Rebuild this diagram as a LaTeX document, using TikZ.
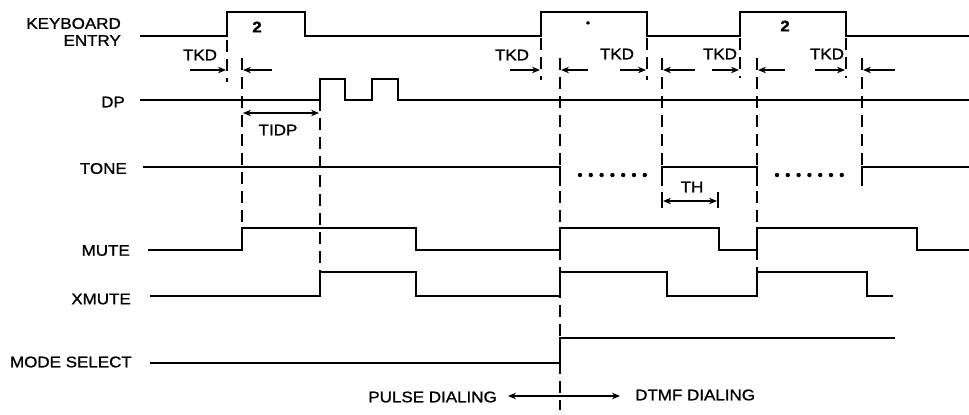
\documentclass[tikz,border=0pt]{standalone}
\usepackage{fontspec}
\setmainfont{Liberation Sans}[FakeStretch=1.1,FakeBold=1.2]
\usetikzlibrary{arrows.meta}
\begin{document}
\begin{tikzpicture}[x=1bp,y=-1bp,
 sig/.style={line width=2.9bp, line join=miter},
 vdash/.style={line width=1.4bp, dash pattern=on 12bp off 7bp},
 dim/.style={line width=1.2bp, -{Stealth[length=8bp,width=6.5bp]}},
 dimb/.style={line width=1.2bp, {Stealth[length=8bp,width=6.5bp]}-{Stealth[length=8bp,width=6.5bp]}},
 tick/.style={line width=1.4bp},
 lbl/.style={font=\fontsize{15.5}{18}\selectfont, inner sep=0pt},
]
\useasboundingbox (0,0) rectangle (969,414);

% signal labels
\node[lbl, anchor=east] (kb) at (121,23.5) {KEYBOARD};
\node[lbl, anchor=east] (en) at (121,40.5) {ENTRY};
\node[lbl, anchor=east] (dp) at (125,102) {DP};
\node[lbl, anchor=east] (tone) at (127,168.5) {TONE};
\node[lbl, anchor=east] (mute) at (130,250.5) {MUTE};
\node[lbl, anchor=east] (xmute) at (131,299) {XMUTE};
\node[lbl, anchor=east] (mode) at (132,362) {MODE SELECT};

% waveforms
\draw[sig] (140,36) -- (227,36) -- (227,12) -- (305,12) -- (305,36) -- (541,36) -- (541,12) -- (647,12) -- (647,36) -- (740,36) -- (740,12) -- (846,12) -- (846,36) -- (969,36);
\draw[sig] (140,100) -- (320,100) -- (320,79) -- (345,79) -- (345,100) -- (372,100) -- (372,79) -- (398,79) -- (398,100) -- (969,100);
\draw[sig] (143,167) -- (560,167) -- (560,186);
\draw[sig] (662,186) -- (662,167) -- (757,167) -- (757,186);
\draw[sig] (862,186) -- (862,167) -- (969,167);
\foreach \i in {0,...,6} {
  \fill (580+10.8*\i,175) circle (2.2bp);
  \fill (777+10.8*\i,175) circle (2.2bp);
}
\draw[sig] (148,250) -- (242,250) -- (242,228) -- (416,228) -- (416,250) -- (560,250) -- (560,228) -- (719,228) -- (719,250) -- (757,250) -- (757,228) -- (917,228) -- (917,250) -- (969,250);
\draw[sig] (150,296) -- (320,296) -- (320,272) -- (416,272) -- (416,296) -- (560,296) -- (560,272) -- (667,272) -- (667,296) -- (757,296) -- (757,272) -- (867,272) -- (867,296) -- (893,296);
\draw[sig] (150,363) -- (560,363) -- (560,338) -- (895,338);

% key digits
\node[lbl, font=\fontsize{15.5}{18}\selectfont\bfseries] (k1) at (257,27) {2};
\node[lbl, font=\fontsize{11}{12}\selectfont] (k2) at (588,24) {•};
\node[lbl, font=\fontsize{15.5}{18}\selectfont\bfseries] (k3) at (785,26) {2};

% dashed verticals
\draw[vdash] (227,40) -- (227,82);
\draw[vdash] (242,58) -- (242,228);
\draw[vdash] (320,80) -- (320,272);
\draw[vdash] (541,38) -- (541,80);
\draw[vdash] (560,58) -- (560,410);
\draw[vdash] (647,38) -- (647,80);
\draw[vdash] (662,58) -- (662,186);
\draw[vdash] (740,38) -- (740,78);
\draw[vdash] (757,58) -- (757,272);
\draw[vdash] (846,38) -- (846,78);
\draw[vdash] (862,58) -- (862,186);

% TKD dimensions
\draw[dim] (190,70) -- (226,70);  \draw[dim] (272,70) -- (243,70);
\node[lbl] (t1) at (200,55) {TKD};
\draw[dim] (510,70) -- (540,70);  \draw[dim] (588,70) -- (561,70);
\node[lbl] (t2) at (512,55) {TKD};
\draw[dim] (620,70) -- (646,70);  \draw[dim] (695,70) -- (663,70);
\node[lbl] (t3) at (617,54) {TKD};
\draw[dim] (712,70) -- (739,70);  \draw[dim] (785,70) -- (758,70);
\node[lbl] (t4) at (720,54) {TKD};
\draw[dim] (815,70) -- (845,70);  \draw[dim] (895,70) -- (863,70);
\node[lbl] (t5) at (827,54) {TKD};

% TIDP
\draw[dimb] (243,113) -- (319,113);
\node[lbl] (tidp) at (278,130) {TIDP};

% TH
\draw[tick] (662,192) -- (662,208);
\draw[tick] (718,192) -- (718,208);
\draw[dimb] (663,201) -- (717,201);
\node[lbl] (th) at (692,187) {TH};

% dialing modes
\node[lbl, anchor=east] (pulse) at (497,397) {PULSE DIALING};
\node[lbl, anchor=west] (dtmf) at (635,395) {DTMF DIALING};
\draw[dimb] (508,396) -- (620,396);
\end{tikzpicture}
\end{document}
